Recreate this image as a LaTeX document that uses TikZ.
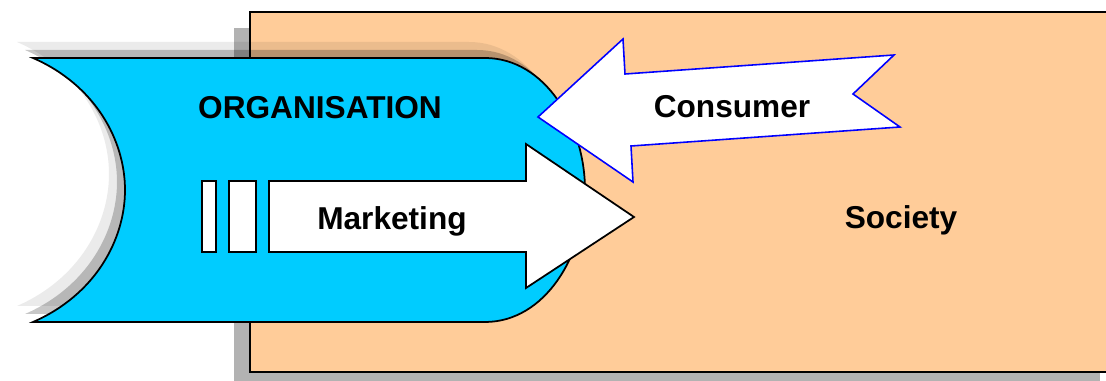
\documentclass[tikz,border=0pt]{standalone}
\usepackage{fontspec}
\setmainfont{Liberation Sans}
\usetikzlibrary{positioning}

\definecolor{orgblue}{HTML}{00CCFF}
\definecolor{societyorange}{HTML}{FFCC99}
\definecolor{consumerblue}{HTML}{0000FF}

% outline of the organisation block (concave left end, round right end)
\newcommand{\orgoutline}{(33,58) -- (485,58)
  .. controls (545,58) and (585,125) .. (585,190)
  .. controls (585,255) and (545,322) .. (485,322)
  -- (33,322)
  .. controls (95,295) and (125,240) .. (125,190)
  .. controls (125,140) and (95,85) .. (33,58) -- cycle}

\begin{document}
\begin{tikzpicture}[
    x=0.02cm, y=-0.02cm,
    outline/.style={draw, line width=1pt},
    bar/.style={draw, fill=white, line width=1pt},
    label/.style={font=\fontsize{18}{22}\selectfont\bfseries, anchor=base, inner sep=0pt}
]
\useasboundingbox (0,0) rectangle (1106,381);
\clip (0,0) rectangle (1106,381);

% Society box and its shadow
\fill[black!30] (234,28) rectangle (1100,390);
\draw[outline, fill=societyorange] (250,12) rectangle (1120,372);

% Organisation shadow
\fill[black, opacity=0.08, shift={(-16,-16)}] \orgoutline;
\fill[black, opacity=0.22, shift={(-8,-8)}] \orgoutline;

% Organisation block
\draw[outline, fill=orgblue] \orgoutline;

% Marketing arrow with its two bars
\draw[bar] (202,181) rectangle (216,252);
\draw[bar] (229,181) rectangle (256,252);
\draw[bar, line join=miter] (269,181) -- (526,181) -- (526,144) -- (634,217)
  -- (526,288) -- (526,252) -- (269,252) -- cycle;

% Consumer arrow
\draw[draw=consumerblue, fill=white, line width=0.9pt, line join=miter]
  (538,117) -- (623,39) -- (625,74) -- (894,55) -- (853,94) -- (900,127)
  -- (631,146) -- (633,182) -- cycle;

% Labels
\node[label] (organisation) at (320,119) {ORGANISATION};
\node[label] (consumer) at (732,118) {Consumer};
\node[label] (marketing) at (392,230) {Marketing};
\node[label] (society) at (901,229) {Society};

\end{tikzpicture}
\end{document}
